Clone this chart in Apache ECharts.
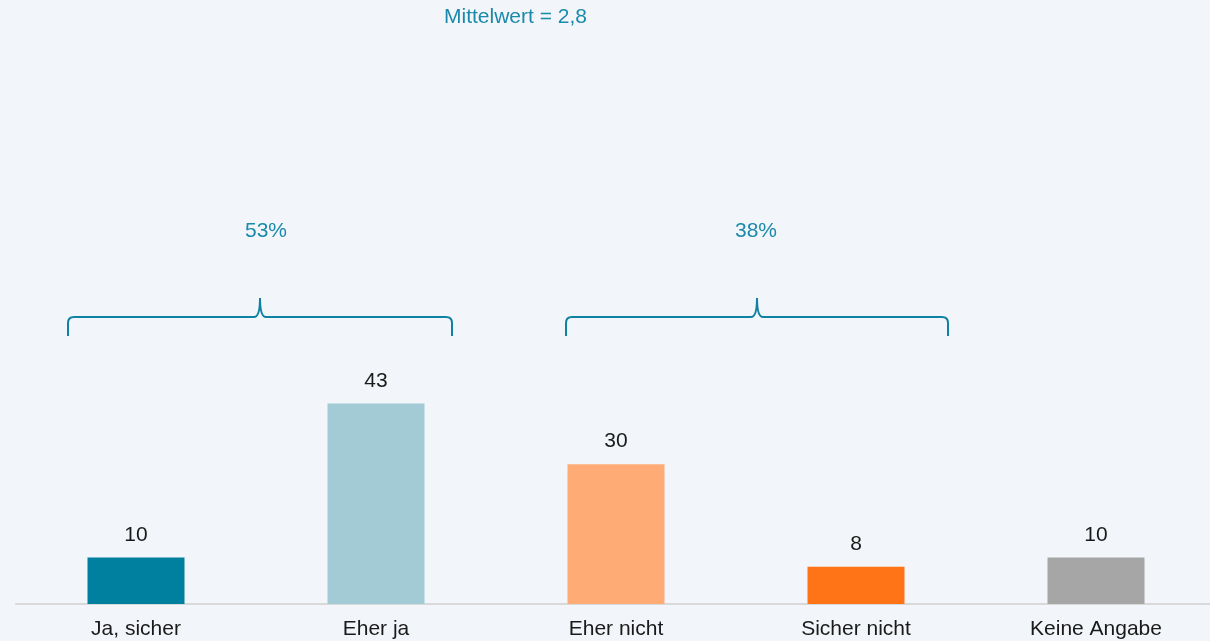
<!DOCTYPE html>
<html><head><meta charset="utf-8">
<script src="https://cdn.jsdelivr.net/npm/echarts@6/dist/echarts.min.js"></script>
<style>html,body{margin:0;padding:0;background:#f2f5f9;overflow:hidden;}#c{width:1216px;height:641px;}</style>
</head><body><div id="c"></div>
<script>
const categories = ['Ja, sicher', 'Eher ja', 'Eher nicht', 'Sicher nicht', 'Keine Angabe'];
const values = [10, 43, 30, 8, 10];
const barColors = ['#00809f', '#a2cbd5', '#ffab76', '#ff7417', '#a6a6a6'];
const groupStart = [0, 2];
const groupEnd = [1, 3];
const groupTotals = ['53%', '38%'];
const meanText = 'Mittelwert = 2,8';
// bracket pixel offsets (style only)
const bracketPad = [[-68, 76], [-50, 92]];
const labelShift = [6, -1];

const chart = echarts.init(document.getElementById('c'));
const font = 'Liberation Sans, Arial, sans-serif';
const teal = '#0f82a3';
chart.setOption({
  backgroundColor: '#f2f5f9',
  animation: false,
  graphic: [{
    type: 'text', left: 517 - 73, top: 7,
    style: {text: meanText, fill: '#1a8aab', fontSize: 21, fontFamily: font}
  }],
  grid: {left: 16, right: 0, top: 138, bottom: 37, containLabel: false},
  xAxis: {
    type: 'category', data: categories,
    axisLine: {lineStyle: {color: '#d9d9d9', width: 2}},
    axisTick: {show: false},
    axisLabel: {color: '#1a1a1a', fontSize: 21, fontFamily: font, margin: 15}
  },
  yAxis: {type: 'value', min: 0, max: 100, show: false, splitLine: {show: false}},
  series: [{
    type: 'bar', barWidth: 97,
    data: values.map((v, i) => ({value: v, itemStyle: {color: barColors[i]}})),
    label: {show: true, position: 'top', distance: 12, color: '#1a1a1a', fontSize: 21, fontFamily: font}
  }, {
    type: 'custom',
    data: groupStart.map((s, i) => [s, groupEnd[i], i]),
    renderItem: function (params, api) {
      const i = api.value(2);
      const p0 = api.coord([api.value(0), 0]);
      const p1 = api.coord([api.value(1), 0]);
      const x0 = p0[0] + bracketPad[i][0];
      const x1 = p1[0] + bracketPad[i][1];
      const xm = (x0 + x1) / 2;
      const yTop = 298, yMid = 317, yBot = 336, r = 6;
      const path = `M${x0},${yBot} L${x0},${yMid + r} Q${x0},${yMid} ${x0 + r},${yMid} L${xm - r},${yMid} Q${xm},${yMid} ${xm},${yTop} Q${xm},${yMid} ${xm + r},${yMid} L${x1 - r},${yMid} Q${x1},${yMid} ${x1},${yMid + r} L${x1},${yBot}`;
      return {
        type: 'group',
        children: [{
          type: 'path', shape: {pathData: path},
          style: {fill: null, stroke: teal, lineWidth: 2}
        }, {
          type: 'text',
          style: {
            text: groupTotals[i], x: xm + labelShift[i], y: 231, align: 'center', verticalAlign: 'middle',
            fill: '#1a8aab', fontSize: 21, fontFamily: font
          }
        }]
      };
    },
    z: 5
  }]
});
</script></body></html>
